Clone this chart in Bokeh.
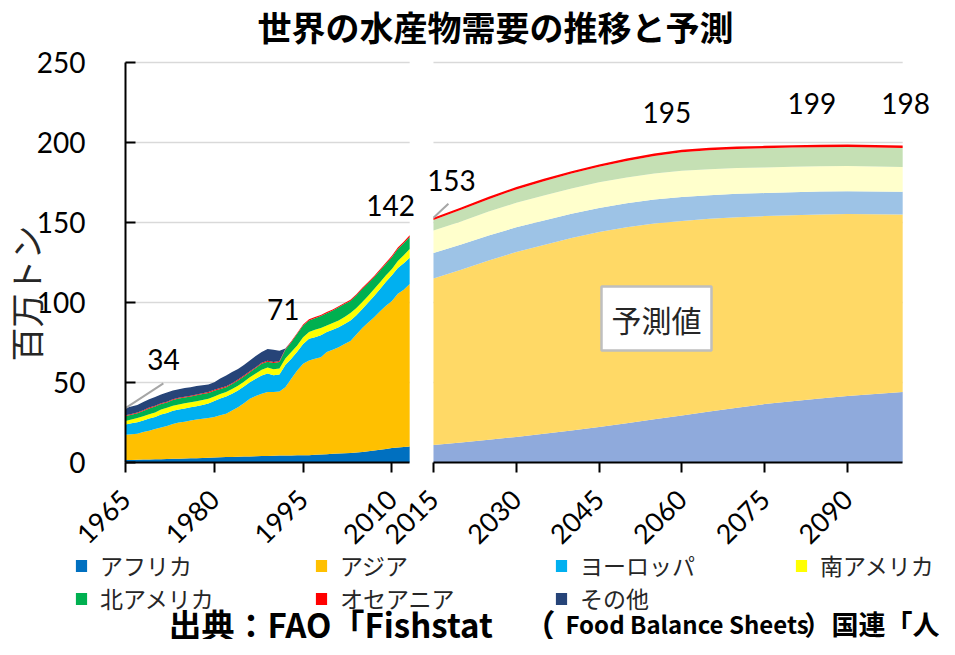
import math
from bokeh.plotting import figure
from bokeh.models import (ColumnDataSource, Range1d, LinearAxis, FixedTicker,
                          Label, Legend, LegendItem)
from bokeh.embed import file_html
from bokeh.resources import INLINE

# ---------------- data ----------------
regions = ["アフリカ", "アジア", "ヨーロッパ", "南アメリカ", "北アメリカ", "オセアニア", "その他"]

hist_years = list(range(1965, 2014))
hist_africa = [1.5, 1.6, 1.7, 1.8, 1.9, 2.0, 2.1, 2.2, 2.3, 2.4,
               2.5, 2.6, 2.7, 2.8, 3.0, 3.2, 3.3, 3.4, 3.5, 3.6,
               3.7, 3.8, 3.9, 4.0, 4.1, 4.2, 4.3, 4.4, 4.4, 4.5,
               4.5, 4.6, 4.8, 5.0, 5.2, 5.4, 5.6, 5.8, 6.0, 6.2,
               6.6, 7.0, 7.5, 8.0, 8.5, 9.0, 9.3, 9.7, 10.0]
hist_asia = [15.8, 16.0, 16.3, 17.2, 17.9, 19.0, 19.7, 20.6, 21.7, 22.6,
             23.0, 23.6, 24.1, 24.5, 24.8, 25.3, 26.2, 27.0, 29.0, 31.0,
             33.3, 36.0, 37.6, 39.0, 39.9, 39.8, 40.0, 42.6, 47.9, 53.0,
             57.2, 59.2, 60.0, 60.8, 63.8, 65.1, 66.4, 68.2, 70.0, 73.8,
             77.4, 80.5, 83.3, 86.5, 89.5, 92.0, 96.2, 98.3, 101.5]
hist_europe = [6.5, 6.9, 7.2, 7.3, 7.7, 7.5, 8.2, 8.2, 8.3, 8.2,
               8.3, 8.3, 8.4, 8.7, 9.0, 10.0, 10.5, 10.8, 10.5, 10.4,
               10.5, 10.4, 10.8, 11.4, 11.6, 10.5, 10.7, 14.0, 12.5, 11.7,
               12.3, 13.5, 13.5, 13.7, 12.5, 12.5, 12.6, 12.5, 12.8, 12.0,
               12.0, 12.5, 13.2, 14.0, 15.0, 16.0, 16.0, 16.5, 16.5]
hist_s_america = [2.2, 2.3, 2.6, 2.6, 2.7, 2.7, 3.2, 3.2, 3.2, 3.1,
                  3.2, 3.1, 3.1, 3.0, 3.0, 2.7, 2.8, 2.8, 3.0, 3.0,
                  3.0, 3.1, 3.3, 3.6, 3.8, 3.8, 3.8, 4.0, 4.2, 4.0,
                  4.3, 4.2, 4.7, 4.5, 4.1, 4.2, 4.2, 4.5, 4.7, 4.5,
                  4.3, 4.2, 4.5, 4.2, 4.0, 4.0, 4.5, 5.0, 5.5]
hist_n_america = [3.0, 3.0, 3.0, 3.3, 3.6, 3.8, 3.3, 3.3, 3.5, 3.7,
                  3.6, 3.6, 3.7, 3.8, 3.7, 3.6, 3.2, 3.0, 3.0, 3.2,
                  3.3, 3.1, 3.4, 3.7, 3.6, 3.9, 4.0, 5.4, 6.2, 7.2,
                  7.3, 7.3, 7.2, 7.5, 7.7, 7.8, 8.2, 8.0, 7.5, 8.0,
                  8.2, 7.8, 7.3, 7.3, 7.2, 7.3, 7.5, 7.5, 7.5]
hist_oceania = [0.5] * 15 + [0.6] * 16 + [0.7] * 10 + [0.8] * 4 + [0.9] * 3 + [1.0]
hist_other = [4.5, 4.7, 4.7, 5.1, 5.2, 5.5, 5.5, 5.8, 5.5, 5.3,
              5.4, 5.3, 5.3, 5.0, 4.8, 4.8, 5.9, 6.8, 6.9, 6.7,
              6.6, 6.8, 6.9, 6.7, 7.4, 7.7, 6.4, 0.3, 0.0, 0.0,
              0.0, 0.0, 0.0, 0.0, 0.0, 0.0, 0.0, 0.0, 0.0, 0.0,
              0.0, 0.0, 0.0, 0.0, 0.0, 0.0, 0.0, 0.0, 0.0]

proj_years = list(range(2015, 2101, 5))
proj_africa = [11.0, 12.5, 14.2, 16.0, 18.0, 20.0, 22.2, 24.5, 27.0,
               29.4, 31.8, 34.2, 36.5, 38.3, 40.0, 41.5, 42.8, 44.0]
proj_asia = [104.0, 108.0, 112.1, 115.5, 118.0, 120.3, 121.8, 122.5, 122.3,
             121.6, 120.5, 119.1, 117.5, 116.3, 115.0, 113.8, 112.4, 111.0]
proj_europe = [16.0, 15.7, 15.5, 15.5, 15.3, 15.1, 15.0, 15.0, 15.0,
               15.0, 14.8, 14.6, 14.4, 14.3, 14.3, 14.3, 14.2, 14.2]
proj_s_america = [14.0, 14.5, 15.0, 15.3, 15.6, 15.9, 16.1, 16.2, 16.3,
                  16.3, 16.2, 16.1, 16.0, 15.9, 15.8, 15.7, 15.6, 15.5]
proj_n_america = [6.5, 7.2, 7.8, 8.4, 8.9, 9.3, 9.7, 10.3, 11.0,
                  11.6, 11.9, 12.0, 12.0, 12.0, 12.0, 11.9, 11.9, 11.9]
proj_oceania = [1.5] * 18

y_ticks = [0, 50, 100, 150, 200, 250]
hist_ticks = [1965, 1980, 1995, 2010]
proj_ticks = [2015, 2030, 2045, 2060, 2075, 2090]

hist_colors = ["#0070C0", "#FFC000", "#00B0F0", "#FFFF00", "#00B050", "#FF0000", "#264478"]
proj_colors = ["#8FAADC", "#FFD966", "#9DC3E6", "#FFFFCC", "#C5E0B4", "#FF0000"]

# labelled totals (year of the point)
hist_label_years = [1965, 1992, 2013]
proj_label_years = [2015, 2060, 2085, 2100]

keys = ["af", "as", "eu", "sa", "na", "oc", "ot"]
hist_src = ColumnDataSource(dict(year=hist_years, af=hist_africa, **{"as": hist_asia},
                                 eu=hist_europe, sa=hist_s_america, na=hist_n_america,
                                 oc=hist_oceania, ot=hist_other))
proj_src = ColumnDataSource(dict(year=proj_years, af=proj_africa, **{"as": proj_asia},
                                 eu=proj_europe, sa=proj_s_america, na=proj_n_america,
                                 oc=proj_oceania))

hist_total = [sum(v) for v in zip(hist_africa, hist_asia, hist_europe, hist_s_america,
                                  hist_n_america, hist_oceania, hist_other)]
proj_total = [sum(v) for v in zip(proj_africa, proj_asia, proj_europe, proj_s_america,
                                  proj_n_america, proj_oceania)]

# ---------------- figure ----------------
# The frame fills the whole canvas; the two panels are placed through the ranges.
W, H = 939, 639
p = figure(width=W, height=H, output_backend="svg", toolbar_location=None,
           x_range=Range1d(1943.885, 2102.5), y_range=Range1d(-110.625, 288.75),
           x_axis_type=None, y_axis_type=None,
           min_border_left=0, min_border_right=0, min_border_top=0, min_border_bottom=0)
p.extra_x_ranges = {"right": Range1d(1936.56, 2106.67)}
p.outline_line_color = None
p.background_fill_color = "white"
p.border_fill_color = "white"

# grid lines (per panel)
gl = [t for t in y_ticks if t > 0]
p.segment(x0=[hist_years[0]] * len(gl), x1=[hist_years[-1]] * len(gl), y0=gl, y1=gl,
          line_color="#D9D9D9", line_width=1.3, level="underlay")
p.segment(x0=[proj_years[0]] * len(gl), x1=[proj_years[-1]] * len(gl), y0=gl, y1=gl,
          line_color="#D9D9D9", line_width=1.3, level="underlay", x_range_name="right")

hist_r = p.varea_stack(stackers=keys, x="year", color=hist_colors, source=hist_src)
proj_r = p.varea_stack(stackers=keys[:6], x="year", color=proj_colors, source=proj_src,
                       x_range_name="right")

# y axis
ya = LinearAxis(ticker=FixedTicker(ticks=y_ticks), bounds=(y_ticks[0], y_ticks[-1]),
                fixed_location=hist_years[0])
ya.axis_line_color = "black"
ya.axis_line_width = 2
ya.major_tick_line_color = "black"
ya.major_tick_line_width = 2
ya.major_tick_in = 10
ya.major_tick_out = 0
ya.minor_tick_line_color = None
ya.major_label_standoff = 40
ya.major_label_text_font = "Lato"
ya.major_label_text_font_size = "28px"
ya.major_label_text_color = "black"
p.add_layout(ya, "left")

# x axes
for rng, ticks, yrs in ((None, hist_ticks, hist_years), ("right", proj_ticks, proj_years)):
    kw = {} if rng is None else {"x_range_name": rng}
    ax = LinearAxis(ticker=FixedTicker(ticks=ticks), bounds=(yrs[0], yrs[-1]),
                    fixed_location=0, **kw)
    ax.axis_line_color = "black"
    ax.axis_line_width = 2
    ax.major_tick_line_color = "black"
    ax.major_tick_line_width = 2
    ax.major_tick_in = 0
    ax.major_tick_out = 10
    ax.minor_tick_line_color = None
    ax.major_label_orientation = math.pi / 4
    ax.major_label_standoff = 22
    ax.major_label_text_font = "Lato"
    ax.major_label_text_font_size = "27px"
    ax.major_label_text_color = "black"
    p.add_layout(ax, "below")

# total labels
lab_kw = dict(text_font="Lato", text_font_size="28px", text_color="black",
              text_align="center", text_baseline="middle")
hist_offsets = [(38, 49), (-2, 39), (-19, 30)]
for yr, (dx, dy) in zip(hist_label_years, hist_offsets):
    t = hist_total[hist_years.index(yr)]
    p.add_layout(Label(x=yr, y=t, x_offset=dx, y_offset=dy, text=f"{round(t)}", **lab_kw))
proj_offsets = [(18, 37), (-15, 37), (-8, 41), (3, 42)]
for yr, (dx, dy) in zip(proj_label_years, proj_offsets):
    t = proj_total[proj_years.index(yr)]
    p.add_layout(Label(x=yr, y=t, x_offset=dx, y_offset=dy, text=f"{round(t)}",
                       x_range_name="right", **lab_kw))

# leader lines
t0 = hist_total[0]
p.segment(x0=[hist_years[0]], y0=[t0], x1=[hist_years[0] + 6.4], y1=[t0 + 15.4],
          line_color="#A6A6A6", line_width=2)
t1 = proj_total[0]
p.segment(x0=[proj_years[0]], y0=[t1], x1=[proj_years[0] + 2.7], y1=[t1 + 8.7],
          line_color="#A6A6A6", line_width=2, x_range_name="right")

# forecast box
p.add_layout(Label(x=2055.4, y=90, x_range_name="right", text="予測値",
                   text_font="Noto Sans CJK JP", text_font_size="30px", text_color="#262626",
                   text_align="center", text_baseline="middle",
                   background_fill_color="white", border_line_color="#BFBFBF",
                   border_line_width=2.5, padding=10))

# title, y label, footer (screen units, from the canvas bottom-left)
p.add_layout(Label(x=495, y=613, x_units="screen", y_units="screen",
                   text="世界の水産物需要の推移と予測", text_font="Noto Sans CJK JP",
                   text_font_size="34px", text_font_style="bold", text_color="black",
                   text_align="center", text_baseline="middle"))
p.add_layout(Label(x=25, y=346, x_units="screen", y_units="screen", angle=math.pi / 2,
                   text="百万トン", text_font="Noto Sans CJK JP", text_font_size="34px",
                   text_color="#262626", text_align="center", text_baseline="middle"))
foot_kw = dict(x_units="screen", y_units="screen", text_font="Noto Sans CJK JP",
               text_font_style="bold", text_color="black", text_align="left",
               text_baseline="middle")
p.add_layout(Label(x=168, y=16, text="出典：FAO「Fishstat", text_font_size="33px", **foot_kw))
p.add_layout(Label(x=522, y=16, text="（", text_font_size="33px", **foot_kw))
p.add_layout(Label(x=565, y=16, text="Food Balance Sheets", text_font_size="24px", **foot_kw))
p.add_layout(Label(x=804, y=16, text="）国連「人", text_font_size="27px", **foot_kw))

# legend (two rows)
leg_kw = dict(orientation="horizontal", glyph_width=14, glyph_height=15, label_standoff=12,
              label_width=212, spacing=2, padding=0, margin=0,
              border_line_color=None, background_fill_alpha=0,
              label_text_font="Noto Sans CJK JP", label_text_font_size="23px",
              label_text_color="#262626")
items = [LegendItem(label=n, renderers=[r]) for n, r in zip(regions, hist_r)]
p.add_layout(Legend(items=items[:4], location=(74, 57), **leg_kw), "center")
p.add_layout(Legend(items=items[4:], location=(74, 24), **leg_kw), "center")

open("out.html", "w").write(file_html(p, INLINE))
